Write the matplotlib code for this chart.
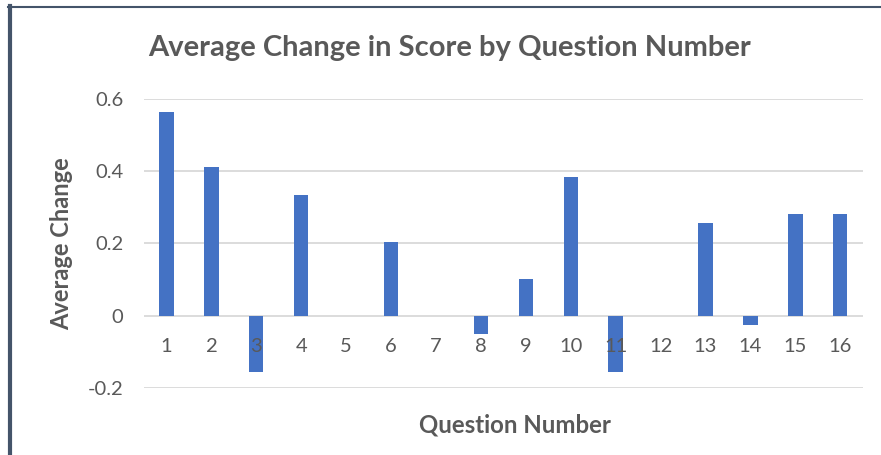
import matplotlib
matplotlib.use("Agg")
import matplotlib.pyplot as plt
from matplotlib.lines import Line2D

questions = ["1", "2", "3", "4", "5", "6", "7", "8", "9", "10", "11", "12", "13", "14", "15", "16"]
avg_change = [0.5625, 0.41, -0.155, 0.333, 0.0, 0.204, 0.0, -0.05, 0.10, 0.384, -0.155, 0.0, 0.256, -0.025, 0.282, 0.282]
y_ticks = [-0.2, 0.0, 0.2, 0.4, 0.6]
y_tick_labels = ["-0.2", "0", "0.2", "0.4", "0.6"]

plt.rcParams['font.family'] = ['Lato', 'DejaVu Sans']
TXT = '#595959'

W, H = 881, 455
fig = plt.figure(figsize=(W / 100, H / 100), dpi=100)
fig.patch.set_facecolor('white')

ax = fig.add_axes([144 / W, 1 - 388 / H, (862.7 - 144) / W, (388 - 98.5) / H])
x = list(range(len(questions)))
ax.bar(x, avg_change, width=0.32, color='#4472C4', linewidth=0, zorder=2)

ax.set_xlim(-0.5, len(questions) - 0.5)
ax.set_ylim(-0.2, 0.6)
ax.set_yticks(y_ticks)
ax.set_yticklabels(y_tick_labels)
ax.yaxis.grid(True, color='#D9D9D9', linewidth=1.3)
ax.set_axisbelow(True)
ax.xaxis.set_zorder(5)
for s in ['top', 'right', 'left']:
    ax.spines[s].set_visible(False)
ax.spines['bottom'].set_position(('data', 0))
ax.spines['bottom'].set_visible(False)
ax.set_xticks(x)
ax.set_xticklabels(questions)
ax.tick_params(axis='x', length=0, pad=16, labelsize=14.5, labelcolor=TXT)
ax.tick_params(axis='y', length=0, pad=15, labelsize=14.5, labelcolor=TXT)

fig.text(450 / W, 1 - 48 / H, "Average Change in Score by Question Number", ha='center', va='center',
         fontsize=21, fontweight='bold', color=TXT)
fig.text(62 / W, 1 - 243.5 / H, "Average Change", ha='center', va='center', rotation=90,
         fontsize=17, fontweight='bold', color=TXT)
fig.text(515 / W, 1 - 425 / H, "Question Number", ha='center', va='center',
         fontsize=17.3, fontweight='bold', color=TXT)

# chart-area border (left and top edges visible)
fig.add_artist(Line2D([10 / W, 10 / W], [0, 1 - 6 / H], transform=fig.transFigure, color='#44546A', linewidth=3))
fig.add_artist(Line2D([8 / W, 1], [1 - 7 / H, 1 - 7 / H], transform=fig.transFigure, color='#44546A', linewidth=1.5))

fig.savefig("out.png", dpi=100, facecolor='white')
